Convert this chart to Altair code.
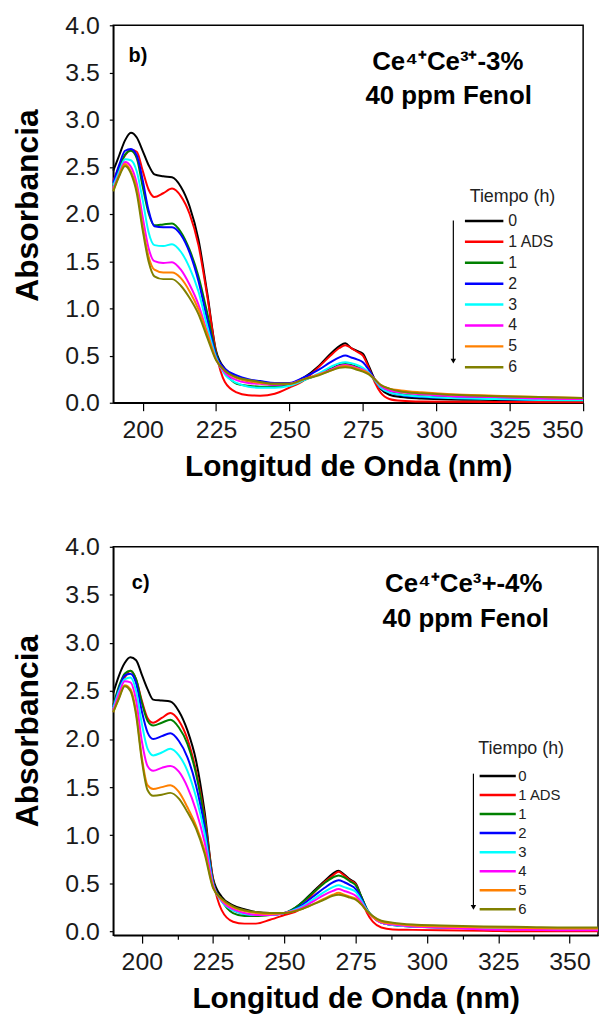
import altair as alt
import pandas as pd

SERIES = ["0", "1 ADS", "1", "2", "3", "4", "5", "6"]
COLORS = ["#000000", "#ff0000", "#008000", "#0000ff", "#00ffff", "#ff00ff", "#ff8000", "#808000"]

# ---------------- panel b) ----------------
WL_B = [190, 192, 194, 196, 198, 200, 202, 204, 207, 210, 213, 216, 219, 222, 225, 228, 232, 236, 240, 245,
        250, 255, 260, 264, 267, 269, 271, 273, 275, 277, 279, 281, 284, 288, 295, 305, 320, 335, 350]
B_0 = [2.46, 2.62, 2.78, 2.86, 2.81, 2.67, 2.52, 2.42, 2.40, 2.39, 2.29, 2.08, 1.73, 1.16, 0.55, 0.36, 0.27, 0.23, 0.21, 0.19,
       0.20, 0.27, 0.39, 0.52, 0.60, 0.63, 0.58, 0.55, 0.52, 0.39, 0.25, 0.15, 0.085, 0.06, 0.045, 0.035, 0.03, 0.025, 0.02]
B_1ADS = [2.35, 2.50, 2.62, 2.68, 2.66, 2.46, 2.26, 2.18, 2.22, 2.27, 2.19, 2.00, 1.67, 1.13, 0.53, 0.22, 0.11, 0.08, 0.075, 0.095,
          0.16, 0.24, 0.38, 0.50, 0.58, 0.61, 0.58, 0.54, 0.50, 0.37, 0.22, 0.11, 0.04, 0.02, 0.012, 0.01, 0.008, 0.005, 0.005]
B_1 = [2.30, 2.48, 2.63, 2.67, 2.59, 2.29, 2.01, 1.88, 1.89, 1.90, 1.81, 1.62, 1.34, 0.95, 0.52, 0.33, 0.20, 0.18, 0.17, 0.17,
       0.19, 0.24, 0.30, 0.36, 0.40, 0.41, 0.40, 0.38, 0.36, 0.31, 0.24, 0.17, 0.12, 0.09, 0.07, 0.06, 0.05, 0.04, 0.035]
B_2 = [2.33, 2.52, 2.67, 2.69, 2.62, 2.36, 2.04, 1.87, 1.86, 1.86, 1.78, 1.59, 1.29, 0.88, 0.50, 0.36, 0.29, 0.25, 0.23, 0.21,
       0.21, 0.27, 0.35, 0.43, 0.48, 0.50, 0.48, 0.46, 0.43, 0.35, 0.25, 0.16, 0.11, 0.08, 0.06, 0.05, 0.04, 0.03, 0.03]
B_3 = [2.30, 2.45, 2.58, 2.57, 2.45, 2.15, 1.81, 1.67, 1.66, 1.68, 1.60, 1.43, 1.18, 0.81, 0.48, 0.30, 0.21, 0.17, 0.16, 0.16,
       0.18, 0.24, 0.31, 0.38, 0.42, 0.43, 0.42, 0.40, 0.37, 0.32, 0.24, 0.16, 0.11, 0.085, 0.065, 0.05, 0.04, 0.03, 0.025]
B_4 = [2.27, 2.42, 2.55, 2.50, 2.32, 1.97, 1.64, 1.50, 1.48, 1.49, 1.41, 1.25, 1.04, 0.74, 0.46, 0.32, 0.24, 0.21, 0.20, 0.19,
       0.20, 0.25, 0.30, 0.35, 0.39, 0.40, 0.39, 0.37, 0.35, 0.31, 0.25, 0.18, 0.13, 0.11, 0.09, 0.07, 0.06, 0.045, 0.04]
B_5 = [2.25, 2.41, 2.53, 2.45, 2.27, 1.87, 1.55, 1.41, 1.38, 1.38, 1.32, 1.18, 0.99, 0.73, 0.46, 0.34, 0.26, 0.23, 0.21, 0.20,
       0.20, 0.25, 0.30, 0.34, 0.38, 0.39, 0.38, 0.36, 0.34, 0.31, 0.25, 0.19, 0.15, 0.13, 0.11, 0.09, 0.075, 0.06, 0.05]
B_6 = [2.24, 2.40, 2.51, 2.43, 2.22, 1.83, 1.50, 1.34, 1.31, 1.31, 1.24, 1.11, 0.94, 0.69, 0.45, 0.34, 0.27, 0.24, 0.22, 0.20,
       0.20, 0.25, 0.29, 0.34, 0.37, 0.375, 0.37, 0.35, 0.33, 0.30, 0.25, 0.19, 0.15, 0.12, 0.10, 0.085, 0.07, 0.06, 0.05]

# ---------------- panel c) ----------------
WL_C = [190, 192, 194, 196, 198, 200, 202, 204, 207, 210, 213, 216, 219, 222, 225, 228, 232, 236, 240, 245,
        250, 255, 260, 264, 267, 269, 271, 273, 275, 277, 279, 281, 284, 288, 295, 305, 320, 335, 350, 360]
C_0 = [2.48, 2.66, 2.79, 2.85, 2.82, 2.67, 2.52, 2.41, 2.40, 2.39, 2.29, 2.09, 1.78, 1.25, 0.55, 0.36, 0.27, 0.23, 0.20, 0.19,
       0.19, 0.27, 0.41, 0.52, 0.60, 0.63, 0.59, 0.54, 0.50, 0.36, 0.22, 0.155, 0.10, 0.08, 0.06, 0.05, 0.04, 0.035, 0.03, 0.03]
C_1ADS = [2.36, 2.52, 2.64, 2.71, 2.62, 2.40, 2.22, 2.17, 2.22, 2.27, 2.19, 2.00, 1.67, 1.19, 0.53, 0.22, 0.10, 0.08, 0.08, 0.12,
          0.17, 0.22, 0.39, 0.51, 0.58, 0.62, 0.58, 0.53, 0.49, 0.34, 0.19, 0.10, 0.04, 0.02, 0.015, 0.01, 0.005, 0.0, 0.0, 0.0]
C_1 = [2.35, 2.55, 2.68, 2.71, 2.62, 2.38, 2.19, 2.14, 2.17, 2.20, 2.12, 1.95, 1.64, 1.16, 0.52, 0.32, 0.19, 0.16, 0.16, 0.17,
       0.19, 0.27, 0.40, 0.50, 0.56, 0.58, 0.56, 0.52, 0.48, 0.36, 0.23, 0.15, 0.09, 0.065, 0.05, 0.04, 0.035, 0.03, 0.03, 0.03]
C_2 = [2.33, 2.52, 2.66, 2.68, 2.58, 2.29, 2.07, 2.00, 2.03, 2.06, 1.98, 1.81, 1.52, 1.09, 0.50, 0.32, 0.22, 0.18, 0.17, 0.17,
       0.19, 0.25, 0.36, 0.45, 0.51, 0.53, 0.51, 0.48, 0.44, 0.34, 0.22, 0.15, 0.09, 0.065, 0.05, 0.04, 0.03, 0.025, 0.02, 0.02]
C_3 = [2.32, 2.50, 2.62, 2.64, 2.50, 2.16, 1.90, 1.83, 1.86, 1.90, 1.83, 1.67, 1.40, 1.02, 0.49, 0.31, 0.22, 0.18, 0.17, 0.17,
       0.19, 0.24, 0.33, 0.41, 0.46, 0.48, 0.46, 0.44, 0.41, 0.32, 0.22, 0.15, 0.09, 0.065, 0.05, 0.04, 0.03, 0.025, 0.02, 0.02]
C_4 = [2.30, 2.47, 2.60, 2.59, 2.40, 1.98, 1.72, 1.67, 1.70, 1.72, 1.66, 1.50, 1.26, 0.93, 0.48, 0.32, 0.23, 0.19, 0.17, 0.17,
       0.19, 0.23, 0.31, 0.38, 0.42, 0.44, 0.42, 0.40, 0.37, 0.30, 0.21, 0.15, 0.09, 0.07, 0.05, 0.04, 0.02, 0.015, 0.01, 0.01]
C_5 = [2.28, 2.43, 2.56, 2.52, 2.28, 1.81, 1.52, 1.48, 1.50, 1.52, 1.45, 1.29, 1.10, 0.84, 0.46, 0.33, 0.25, 0.21, 0.19, 0.18,
       0.19, 0.22, 0.28, 0.34, 0.38, 0.40, 0.38, 0.36, 0.34, 0.28, 0.21, 0.15, 0.10, 0.08, 0.06, 0.05, 0.04, 0.035, 0.03, 0.03]
C_6 = [2.28, 2.42, 2.55, 2.50, 2.25, 1.78, 1.47, 1.41, 1.42, 1.44, 1.38, 1.24, 1.07, 0.81, 0.45, 0.34, 0.26, 0.22, 0.20, 0.19,
       0.19, 0.22, 0.28, 0.33, 0.37, 0.38, 0.37, 0.35, 0.33, 0.28, 0.21, 0.16, 0.11, 0.09, 0.07, 0.06, 0.05, 0.045, 0.04, 0.04]

X_TICKS = [200 + 12.5 * i for i in range(13)]
Y_TICKS = [0.25 * i for i in range(17)]

FONT = "Liberation Sans"
COLOR_SCALE = alt.Scale(domain=SERIES, range=COLORS)


def long_df(wl, cols):
    rows = []
    for name, vals in zip(SERIES, cols):
        for x, y in zip(wl, vals):
            rows.append({"wl": x, "abs": y, "serie": name})
    return pd.DataFrame(rows)


LEGEND_DF = pd.DataFrame({"serie": SERIES, "idx": list(range(len(SERIES)))})


def panel(df, xmax, ymin, w, h, letter, line1, line2, tx, leg, arrow_x, arrow_y1, arrow_y2, ytitle_y):
    xs = alt.Scale(domain=[190, xmax], nice=False, zero=False)
    ys = alt.Scale(domain=[ymin, 4.0], nice=False, zero=False)
    xax = alt.Axis(values=X_TICKS, format=".0f",
                   labelExpr="datum.value % 25 == 0 ? datum.label : ''",
                   tickSize={"condition": {"test": "datum.value % 25 == 0", "value": 8}, "value": 4},
                   title="Longitud de Onda (nm)", titleFontSize=30, titleFontWeight="bold",
                   labelFontSize=25, labelPadding=7, titlePadding=9)
    yax = alt.Axis(values=Y_TICKS, format=".1f",
                   labelExpr="(datum.value * 2) % 1 == 0 ? datum.label : ''",
                   tickSize=4, labelPadding=10,
                   title="Absorbancia", titleFontSize=32, titleFontWeight="bold",
                   labelFontSize=25, titlePadding=21, titleY=ytitle_y)
    lines = alt.Chart(df).mark_line(strokeWidth=2, interpolate="monotone").encode(
        x=alt.X("wl:Q", scale=xs, axis=xax),
        y=alt.Y("abs:Q", scale=ys, axis=yax),
        color=alt.Color("serie:N", sort=SERIES, scale=COLOR_SCALE, legend=None),
        detail="serie:N",
    )
    t_letter = alt.Chart().mark_text(fontSize=20, fontWeight="bold", font=FONT, color="black").encode(
        x=alt.datum(letter[1]), y=alt.datum(letter[2]), text=alt.value(letter[0]))
    t1 = alt.Chart().mark_text(fontSize=26, fontWeight="bold", font=FONT, color="black",
                               baseline="alphabetic").encode(
        x=alt.datum(tx[0]), y=alt.datum(3.53), text=alt.value(line1))
    t2 = alt.Chart().mark_text(fontSize=26, fontWeight="bold", font=FONT, color="black",
                               baseline="alphabetic").encode(
        x=alt.datum(tx[1]), y=alt.datum(3.17), text=alt.value(line2))
    arrow = alt.Chart().mark_rule(color="black", strokeWidth=1.2).encode(
        x=alt.datum(arrow_x), y=alt.datum(arrow_y1), y2=alt.datum(arrow_y2 + 0.03))
    head = alt.Chart().mark_point(shape="triangle-down", filled=True, size=30, color="black", opacity=1).encode(
        x=alt.datum(arrow_x), y=alt.datum(arrow_y2 + 0.03))
    main = alt.layer(lines, t_letter, t1, t2, arrow, head)

    # custom legend (own y scale mapping row index to pixel rows)
    lx0, lx1, lab_x, row0, row7, title_x, title_y, lfont, tfont = leg
    ly = alt.Scale(domain=[0, len(SERIES) - 1], range=[row0, row7])
    leg_lines = alt.Chart(LEGEND_DF).mark_rule(strokeWidth=2.5).encode(
        x=alt.value(lx0), x2=alt.value(lx1),
        y=alt.Y("idx:Q", scale=ly, axis=None),
        color=alt.Color("serie:N", scale=COLOR_SCALE, legend=None),
    )
    leg_text = alt.Chart(LEGEND_DF).mark_text(align="left", baseline="middle", font=FONT, fontSize=lfont,
                                              color="#222").encode(
        x=alt.value(lab_x),
        y=alt.Y("idx:Q", scale=ly, axis=None),
        text="serie:N",
    )
    leg_title = alt.Chart().mark_text(align="right", baseline="middle", font=FONT, fontSize=tfont,
                                      color="#222").encode(
        x=alt.value(title_x), y=alt.value(title_y), text=alt.value("Tiempo (h)"))
    legend = alt.layer(leg_lines, leg_text)
    return alt.layer(main, legend, leg_title).resolve_scale(y="independent").properties(width=w, height=h)


df_b = long_df(WL_B, [B_0, B_1ADS, B_1, B_2, B_3, B_4, B_5, B_6])
df_c = long_df(WL_C, [C_0, C_1ADS, C_1, C_2, C_3, C_4, C_5, C_6])

top = panel(df_b, 350, 0.0, 473, 380, ("b)", 198.4, 3.67), "Ce⁴⁺Ce³⁺-3%", "40 ppm Fenol", (303.9, 304.2),
            (354, 392.7, 397.7, 197, 344.3, 445, 173, 16, 18), 305.8, 1.93, 0.41, 181)
bottom = panel(df_c, 360, -0.04, 488, 391, ("c)", 199.6, 3.62), "Ce⁴⁺Ce³+-4%", "40 ppm Fenol", (312.9, 313.6),
               (368.8, 405.2, 407.8, 230.7, 365, 453.8, 203.3, 15, 18), 316.3, 1.64, 0.22, 185)

chart = alt.vconcat(top, bottom, spacing=52).properties(
    padding={"left": 2, "top": 1, "right": 0, "bottom": 0}
).configure_view(stroke="black", strokeWidth=1.5).configure_axis(
    domainColor="black", domainWidth=1.5, tickColor="black", tickWidth=1.2, labelColor="#1a1a1a",
    titleColor="black", labelFont=FONT, titleFont=FONT, grid=False
)

chart.save("out.html", embed_options={"renderer": "svg", "actions": False})
